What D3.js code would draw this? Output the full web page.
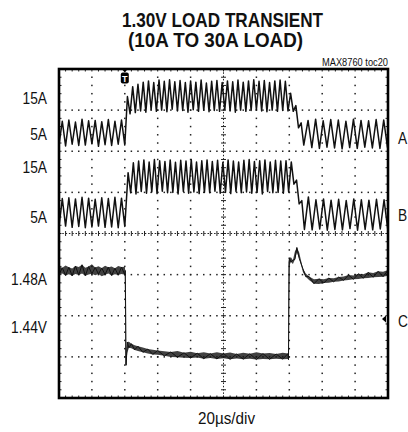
<!DOCTYPE html>
<html>
<head>
<meta charset="utf-8">
<script src="https://cdn.jsdelivr.net/npm/d3@7"></script>
<style>
  body { margin: 0; background: #fff; }
  svg { display: block; }
  text { font-family: "Liberation Sans", Arial, sans-serif; fill: #111; }
</style>
</head>
<body>
<div id="chart"></div>
<script>
// scope settings: 20us/div, 10 x 8 divisions
var timeDomain = [0, 200];          // us
var divDomain = [-4, 4];            // vertical divisions

// channel A: inductor current, phase 1 (A), sampled at peaks/valleys
var aPre  = {t0: 0,     dt: 2,   values: [2.1, 7.8, 1.8, 8.1, 2.2, 7.6, 1.9, 8.3, 2.0, 7.9, 2.3, 8.0, 1.7, 7.7, 2.1, 8.2, 1.9, 7.8, 2.2, 8.1, 2.0]};
var aHigh = {t0: 41.6,  dt: 1.6, values: [13.8, 9.6, 16.2, 9.9, 16.8, 10.3, 17.3, 10.0, 17.6, 10.6, 17.2, 10.2, 17.8, 10.5, 17.5, 10.1, 17.9, 10.7, 17.4, 10.3,
                                          17.7, 10.4, 17.2, 10.0, 17.6, 10.6, 17.3, 10.2, 17.8, 10.5, 17.1, 10.1, 17.5, 10.4, 17.7, 10.2, 17.2, 10.6, 17.6, 10.3,
                                          17.4, 10.0, 17.8, 10.5, 17.3, 10.2, 17.6, 10.4, 17.9, 10.6, 17.5, 10.3, 17.7, 10.1, 17.2, 10.5, 17.6, 10.2, 17.8, 10.4, 17.5, 10.3]};
var aFall = {t0: 140.8, dt: 1.6, values: [14.6, 10.2, 11.6, 6.2, 7.4, 2.0]};
var aPost = {t0: 151.4, dt: 2.3, values: [8.0, 1.4, 8.3, 1.2, 7.9, 1.5, 8.2, 1.3, 8.1, 1.1, 7.8, 1.4, 8.3, 1.2, 8.0, 1.5, 7.9, 1.3, 8.2, 1.2, 8.1, 1.4]};

// channel B: inductor current, phase 2 (A)
var bPre  = {t0: 0,     dt: 2,   values: [1.6, 8.5, 1.8, 8.7, 1.5, 8.4, 1.7, 8.8, 1.4, 8.6, 1.6, 8.3, 1.8, 8.7, 1.5, 8.5, 1.6, 8.8, 1.4, 8.6, 1.7]};
var bHigh = {t0: 42.0,  dt: 1.6, values: [14.8, 9.9, 17.2, 9.6, 17.6, 10.2, 17.9, 9.8, 17.4, 10.1, 18.0, 9.7, 17.7, 10.3, 17.5, 9.9, 17.9, 10.0, 17.3, 9.6,
                                          17.8, 10.2, 17.6, 9.8, 18.0, 10.1, 17.4, 9.7, 17.7, 10.0, 17.9, 9.9, 17.5, 10.3, 17.8, 9.8, 17.3, 10.0, 17.9, 9.7,
                                          17.6, 10.2, 17.4, 9.9, 17.8, 10.1, 18.0, 9.8, 17.5, 10.0, 17.7, 9.6, 17.9, 10.2, 17.4, 9.9, 17.8, 10.0, 17.6, 9.8, 17.7, 10.1]};
var bFall = {t0: 141.2, dt: 1.6, values: [17.4, 12.0, 13.0, 7.2, 8.0, 1.0]};
var bPost = {t0: 151.6, dt: 2.3, values: [8.9, 0.9, 8.2, 1.1, 8.4, 0.8, 8.1, 1.0, 8.3, 0.9, 8.0, 1.2, 8.4, 0.8, 8.2, 1.0, 8.1, 0.9, 8.3, 1.1, 8.2, 0.9]};

// channel C: output voltage (V), noise band as upper/lower envelope
var cTime = [0, 2, 4, 6, 8, 10, 12, 14, 16, 18, 20, 22, 24, 26, 28, 30, 32, 34, 36, 38, 40,
             40.3, 40.8, 41.5, 42.5, 44, 46, 48, 51, 54, 57, 60, 64, 68, 72, 76, 80, 84, 88, 92, 96,
             100, 104, 108, 112, 116, 120, 124, 128, 132, 136, 139.2,
             139.5, 140.0, 141, 142.2, 143.4, 144.6, 146, 148.3, 150, 152, 155, 158, 161, 164, 167, 170,
             173, 176, 179, 182, 185, 188, 191, 194, 197, 200];
var cHigh = [1.4820, 1.4813, 1.4824, 1.4816, 1.4810, 1.4822, 1.4817, 1.4828, 1.4814, 1.4819, 1.4830, 1.4815, 1.4821, 1.4812, 1.4823, 1.4816, 1.4819, 1.4811, 1.4822, 1.4817, 1.4818,
             1.4800, 1.4385, 1.4452, 1.4454, 1.4444, 1.4436, 1.4432, 1.4426, 1.4418, 1.4415, 1.4411, 1.4407, 1.4404, 1.4408, 1.4400, 1.4405, 1.4398, 1.4402, 1.4396, 1.4403,
             1.4397, 1.4401, 1.4394, 1.4400, 1.4395, 1.4402, 1.4396, 1.4399, 1.4394, 1.4400, 1.4396,
             1.4840, 1.4860, 1.4864, 1.4850, 1.4892, 1.4912, 1.4888, 1.4808, 1.4786, 1.4771, 1.4758, 1.4760, 1.4757, 1.4764, 1.4762, 1.4768,
             1.4771, 1.4778, 1.4776, 1.4784, 1.4782, 1.4791, 1.4788, 1.4796, 1.4794, 1.4802];
var cLow  = [1.4780, 1.4785, 1.4776, 1.4782, 1.4774, 1.4783, 1.4778, 1.4786, 1.4775, 1.4781, 1.4784, 1.4777, 1.4783, 1.4772, 1.4780, 1.4785, 1.4776, 1.4782, 1.4778, 1.4783, 1.4779,
             1.4344, 1.4339, 1.4399, 1.4424, 1.4422, 1.4414, 1.4408, 1.4402, 1.4396, 1.4392, 1.4390, 1.4385, 1.4380, 1.4378, 1.4376, 1.4374, 1.4377, 1.4371, 1.4374, 1.4370,
             1.4373, 1.4368, 1.4372, 1.4369, 1.4371, 1.4367, 1.4370, 1.4368, 1.4371, 1.4369, 1.4370,
             1.4366, 1.4824, 1.4842, 1.4832, 1.4854, 1.4888, 1.4860, 1.4792, 1.4770, 1.4754, 1.4736, 1.4734, 1.4739, 1.4741, 1.4745, 1.4746,
             1.4752, 1.4754, 1.4757, 1.4759, 1.4762, 1.4764, 1.4767, 1.4768, 1.4770, 1.4774];

// labels
var leftLabels = ["15A", "5A", "15A", "5A", "1.48A", "1.44V"];
var leftLabelRows = [3.28, 2.42, 1.62, 0.40, -1.12, -2.28];   // graticule divisions
var rightLabels = ["A", "B", "C"];
var rightLabelRows = [2.32, 0.45, -2.14];
var triggerTime = 40;       // us
var groundC = -2.08;        // div, channel C reference marker

// set the dimensions of the graticule
var W = 408, H = 432;
var plot = {left: 59, right: 388, top: 69, bottom: 398};
var narrow = 0.86;          // condensed look for labels

var svg = d3.select("#chart").append("svg")
    .attr("width", W)
    .attr("height", H);

// scales
var x = d3.scaleLinear().domain(timeDomain).range([plot.left, plot.right]);
var y = d3.scaleLinear().domain(divDomain).range([plot.bottom, plot.top]);

// channel scales (unit -> divisions)
var chA = d3.scaleLinear().domain([5, 15]).range([2.45, 3.45]);       // 10A/div
var chB = d3.scaleLinear().domain([5, 15]).range([0.5, 1.5]);         // 10A/div
var chC = d3.scaleLinear().domain([1.48, 1.50]).range([-0.9, 0.1]);   // 20mV/div

// graticule: dotted division lines
var grid = svg.append("g").attr("fill", "#222");
var minorX = d3.range(0, 50.001, 1).map(function(i) { return timeDomain[0] + i * 4; });
var minorY = d3.range(0, 40.001, 1).map(function(i) { return divDomain[0] + i * 0.2; });

[1, 2, 3, 4, 6, 7, 8, 9].forEach(function(k) {
  grid.selectAll(null)
    .data(minorY.slice(1, -1))
    .enter().append("rect")
      .attr("x", x(k * 20) - 0.75)
      .attr("y", function(d) { return y(d) - 0.75; })
      .attr("width", 1.5).attr("height", 1.5);
});
[-3, -2, -1, 1, 2, 3].forEach(function(k) {
  grid.selectAll(null)
    .data(minorX.slice(1, -1))
    .enter().append("rect")
      .attr("x", function(d) { return x(d) - 0.75; })
      .attr("y", y(k) - 0.75)
      .attr("width", 1.5).attr("height", 1.5);
});

// center axes with minor ticks
var axes = svg.append("g").attr("stroke", "#222").attr("stroke-width", 1);
axes.append("line")
    .attr("x1", plot.left).attr("x2", plot.right)
    .attr("y1", y(0)).attr("y2", y(0))
    .attr("stroke-dasharray", "1.5,1.8");
axes.append("line")
    .attr("x1", x(100)).attr("x2", x(100))
    .attr("y1", plot.top).attr("y2", plot.bottom)
    .attr("stroke-dasharray", "1.5,1.8");
axes.selectAll(null)
  .data(minorX.slice(1, -1))
  .enter().append("line")
    .attr("x1", function(d) { return x(d); }).attr("x2", function(d) { return x(d); })
    .attr("y1", y(0) - 2.5).attr("y2", y(0) + 2.5);
axes.selectAll(null)
  .data(minorY.slice(1, -1))
  .enter().append("line")
    .attr("y1", function(d) { return y(d); }).attr("y2", function(d) { return y(d); })
    .attr("x1", x(100) - 2.5).attr("x2", x(100) + 2.5);

// small ticks inside the frame edges
axes.selectAll(null)
  .data(minorX.slice(1, -1))
  .enter().append("path")
    .attr("d", function(d) {
      return "M" + x(d) + "," + plot.top + "v2.5M" + x(d) + "," + plot.bottom + "v-2.5";
    });
axes.selectAll(null)
  .data(minorY.slice(1, -1))
  .enter().append("path")
    .attr("d", function(d) {
      return "M" + plot.left + "," + y(d) + "h2.5M" + plot.right + "," + y(d) + "h-2.5";
    });

// expand uniformly sampled segments into points
function points(segs) {
  var out = [];
  segs.forEach(function(s) {
    s.values.forEach(function(v, i) { out.push({t: s.t0 + i * s.dt, v: v}); });
  });
  return out;
}

var traceA = points([aPre, aHigh, aFall, aPost]);
var traceB = points([bPre, bHigh, bFall, bPost]);

function addTrace(data, ch) {
  svg.append("path")
    .datum(data)
    .attr("fill", "none")
    .attr("stroke", "#111")
    .attr("stroke-width", 1.5)
    .attr("stroke-linejoin", "round")
    .attr("d", d3.line()
        .x(function(d) { return x(d.t); })
        .y(function(d) { return y(ch(d.v)); }));
}
addTrace(traceA, chA);
addTrace(traceB, chB);

// channel C as a noise band plus a zigzag through its envelope
var traceC = cTime.map(function(t, i) { return {t: t, hi: cHigh[i], lo: cLow[i]}; });
svg.append("path")
  .datum(traceC)
  .attr("fill", "#111")
  .attr("fill-opacity", 0.8)
  .attr("d", d3.area()
      .x(function(d) { return x(d.t); })
      .y0(function(d) { return y(chC(d.lo)); })
      .y1(function(d) { return y(chC(d.hi)); }));
svg.append("path")
  .datum(traceC)
  .attr("fill", "none")
  .attr("stroke", "#111")
  .attr("stroke-width", 1)
  .attr("d", d3.line()
      .x(function(d) { return x(d.t); })
      .y(function(d, i) { return y(chC(i % 2 ? d.hi : d.lo)); }));

// frame
svg.append("rect")
  .attr("x", plot.left).attr("y", plot.top)
  .attr("width", plot.right - plot.left)
  .attr("height", plot.bottom - plot.top)
  .attr("fill", "none")
  .attr("stroke", "#000")
  .attr("stroke-width", 2.6);

// trigger marker
var tx = x(triggerTime);
svg.append("path")
  .attr("d", "M" + (tx - 3) + "," + plot.top + "L" + (tx + 3) + "," + plot.top + "L" + tx + "," + (plot.top + 3.5) + "Z")
  .attr("fill", "#000");
svg.append("rect")
  .attr("x", tx - 4).attr("y", plot.top + 3.5)
  .attr("width", 8).attr("height", 11)
  .attr("rx", 2)
  .attr("fill", "#000");
svg.append("text")
  .attr("x", tx).attr("y", plot.top + 12.5)
  .attr("text-anchor", "middle")
  .style("font-size", "9px").style("font-weight", "bold")
  .style("fill", "#fff")
  .text("T");

// channel C reference marker
var gy = y(groundC);
svg.append("path")
  .attr("d", "M" + (plot.right - 6) + "," + gy + "L" + (plot.right - 2) + "," + (gy - 3.5) + "L" + (plot.right - 2) + "," + (gy + 3.5) + "Z")
  .attr("fill", "#000");

// left / right labels
svg.selectAll(".lab")
  .data(leftLabels)
  .enter().append("text")
    .attr("transform", function(d, i) {
      return "translate(47," + y(leftLabelRows[i]) + ") scale(" + narrow + ",1)";
    })
    .attr("dy", "0.36em")
    .attr("text-anchor", "end")
    .style("font-size", "16px")
    .text(function(d) { return d; });
svg.selectAll(".rlab")
  .data(rightLabels)
  .enter().append("text")
    .attr("transform", function(d, i) {
      return "translate(398," + y(rightLabelRows[i]) + ") scale(" + narrow + ",1)";
    })
    .attr("dy", "0.36em")
    .style("font-size", "16px")
    .text(function(d) { return d; });

// title
svg.append("text")
  .attr("x", 122).attr("y", 26.5)
  .attr("textLength", 201).attr("lengthAdjust", "spacingAndGlyphs")
  .style("font-size", "20px").style("font-weight", "bold")
  .text("1.30V LOAD TRANSIENT");
svg.append("text")
  .attr("x", 128).attr("y", 46.5)
  .attr("textLength", 175).attr("lengthAdjust", "spacingAndGlyphs")
  .style("font-size", "20px").style("font-weight", "bold")
  .text("(10A TO 30A LOAD)");
svg.append("text")
  .attr("x", 322).attr("y", 65.5)
  .attr("textLength", 66).attr("lengthAdjust", "spacingAndGlyphs")
  .style("font-size", "10px")
  .text("MAX8760 toc20");

// x caption
svg.append("text")
  .attr("x", 198).attr("y", 424)
  .attr("textLength", 57).attr("lengthAdjust", "spacingAndGlyphs")
  .style("font-size", "16px")
  .text("20\u00b5s/div");
</script>
</body>
</html>
